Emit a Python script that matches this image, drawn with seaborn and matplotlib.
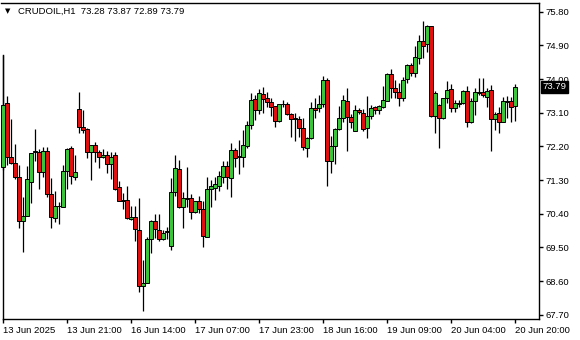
import matplotlib
matplotlib.use("Agg")
import matplotlib.pyplot as plt
import matplotlib.transforms as mtransforms
import seaborn as sns
import numpy as np

sns.set_style("white")
plt.rcParams["font.family"] = ["Liberation Sans", "DejaVu Sans"]

symbol = "CRUDOIL,H1"
opens = [71.66, 73.37, 71.91, 71.75, 71.38, 70.22, 70.35, 71.26, 72.04, 72.05,
         71.51, 72.08, 70.93, 70.29, 70.60, 70.59, 71.54, 72.15, 71.39, 73.20,
         72.71, 72.67, 72.04, 72.24, 72.05, 71.91, 71.97, 71.73, 71.97, 71.11,
         70.77, 70.77, 70.26, 70.31, 69.97, 68.46, 68.56, 69.72, 70.21, 69.97,
         69.72, 69.91, 69.54, 70.99, 71.60, 70.57, 70.79, 70.82, 70.44, 70.74,
         70.53, 69.79, 71.06, 71.10, 71.15, 71.38, 71.68, 71.35, 72.11, 71.94,
         71.93, 72.21, 72.77, 73.46, 73.16, 73.60, 73.49, 73.38, 73.28, 72.89,
         73.33, 73.34, 73.06, 72.95, 72.93, 72.69, 72.17, 72.42, 73.22, 73.22,
         73.33, 73.97, 71.82, 72.21, 72.66, 72.95, 73.41, 72.98, 72.61, 73.17,
         73.09, 72.69, 73.01, 73.24, 73.17, 73.25, 73.42, 74.13, 73.75, 73.65,
         73.49, 73.99, 74.38, 74.15, 74.56, 75.02, 74.93, 75.42, 73.01, 73.31,
         72.95, 73.49, 73.74, 73.22, 73.33, 73.35, 73.68, 72.84, 73.40, 73.62,
         73.65, 73.53, 73.71, 72.93, 73.09, 72.86, 73.38, 73.41, 73.28]
highs = [74.64, 73.55, 72.93, 72.26, 71.71, 70.85, 71.68, 72.02, 72.66, 72.13,
         72.19, 72.19, 71.35, 71.01, 70.71, 71.71, 72.17, 72.21, 71.97, 73.66,
         73.17, 72.69, 72.24, 72.31, 72.11, 72.13, 72.08, 72.06, 72.06, 71.28,
         70.95, 71.15, 70.61, 70.61, 70.82, 69.17, 69.79, 70.24, 70.39, 70.39,
         69.97, 70.04, 71.35, 71.97, 71.84, 70.99, 71.64, 70.93, 70.75, 70.88,
         70.73, 71.39, 71.31, 71.38, 71.53, 71.82, 71.82, 72.28, 72.15, 72.37,
         72.64, 72.89, 73.62, 73.58, 73.73, 73.78, 73.65, 73.49, 73.28, 73.34,
         73.44, 73.38, 73.10, 73.09, 73.00, 72.97, 72.46, 73.38, 73.49, 73.58,
         74.08, 74.04, 72.48, 72.69, 73.28, 73.58, 73.75, 73.07, 73.31, 73.22,
         73.19, 73.55, 73.31, 73.29, 73.31, 73.82, 74.15, 74.27, 73.98, 73.89,
         74.05, 74.40, 74.44, 74.88, 75.18, 75.55, 75.44, 75.42, 73.68, 73.33,
         73.49, 73.95, 73.86, 73.44, 73.44, 73.71, 73.82, 73.49, 73.75, 74.04,
         74.02, 73.75, 73.84, 73.11, 73.25, 73.51, 73.55, 73.53, 73.87]
lows = [71.57, 71.71, 71.73, 71.32, 70.02, 69.39, 70.33, 70.70, 71.82, 71.06,
        71.39, 70.85, 70.03, 70.18, 70.13, 70.58, 71.06, 71.20, 71.31, 72.57,
        72.57, 71.89, 71.29, 71.79, 71.63, 71.90, 71.48, 71.33, 71.04, 70.73,
        70.53, 70.26, 70.24, 69.68, 68.30, 67.81, 68.54, 69.36, 69.76, 69.68,
        69.70, 69.73, 69.44, 70.88, 70.55, 70.03, 70.57, 70.26, 70.43, 70.43,
        69.52, 69.78, 70.58, 70.77, 71.02, 71.22, 71.06, 70.86, 71.66, 71.46,
        71.66, 72.15, 72.66, 72.91, 73.06, 73.10, 73.25, 73.00, 72.73, 72.86,
        73.24, 73.04, 72.44, 72.35, 72.45, 72.11, 71.93, 72.39, 72.97, 73.13,
        73.24, 71.15, 71.50, 71.72, 72.64, 72.84, 72.09, 72.69, 72.60, 73.06,
        72.61, 72.42, 72.93, 73.07, 73.06, 73.22, 73.40, 73.50, 73.50, 73.29,
        73.40, 73.90, 74.08, 74.06, 74.40, 74.56, 74.72, 72.98, 72.57, 72.17,
        72.94, 73.35, 73.13, 73.13, 73.26, 73.34, 72.73, 72.83, 73.04, 73.57,
        73.53, 73.24, 72.08, 72.64, 72.55, 72.85, 72.95, 72.86, 72.89]
closes = [73.31, 71.93, 71.75, 71.38, 70.22, 70.34, 71.33, 72.02, 72.08, 71.51,
          72.08, 70.93, 70.32, 70.61, 70.62, 71.54, 72.13, 71.42, 71.51, 72.71,
          72.64, 72.04, 72.24, 72.06, 71.91, 71.97, 71.73, 71.93, 71.07, 70.75,
          70.75, 70.29, 70.32, 69.99, 68.48, 68.54, 69.73, 70.21, 69.99, 69.73,
          69.88, 69.94, 70.98, 71.62, 70.57, 70.82, 70.83, 70.44, 70.73, 70.52,
          69.82, 71.06, 71.13, 71.20, 71.41, 71.68, 71.38, 72.11, 71.90, 71.91,
          72.24, 72.77, 73.44, 73.16, 73.62, 73.46, 73.38, 73.26, 72.89, 73.33,
          73.34, 73.06, 72.93, 72.93, 72.69, 72.18, 72.42, 73.22, 73.18, 73.33,
          73.98, 71.82, 72.21, 72.66, 72.95, 73.44, 72.98, 72.85, 73.16, 73.13,
          72.66, 73.01, 73.22, 73.17, 73.29, 73.44, 74.13, 73.75, 73.64, 73.49,
          73.98, 74.38, 74.15, 74.58, 75.02, 74.89, 75.42, 73.01, 73.62, 72.95,
          73.49, 73.71, 73.22, 73.35, 73.35, 73.68, 72.84, 73.41, 73.65, 73.66,
          73.56, 73.68, 72.93, 73.07, 72.86, 73.41, 73.41, 73.26, 73.79]

time_labels = ["13 Jun 2025", "13 Jun 21:00", "16 Jun 14:00", "17 Jun 07:00",
               "17 Jun 23:00", "18 Jun 16:00", "19 Jun 09:00", "20 Jun 04:00",
               "20 Jun 20:00"]
time_label_step = 16
price_ticks = [75.80, 74.90, 74.00, 73.10, 72.20, 71.30, 70.40, 69.50, 68.60, 67.70]

bull_color = "#3cc43c"
bear_color = "#e01010"

o = np.array(opens); h = np.array(highs); l = np.array(lows); c = np.array(closes)
x = np.arange(len(o))

fig = plt.figure(figsize=(5.8, 3.4), dpi=100)
ax = fig.add_axes([1 / 580, 21 / 340, 538 / 580, 316 / 340])

ax.vlines(x, l, h, color="black", linewidth=0.9, zorder=2)
body_bottom = np.minimum(o, c)
body_height = np.abs(c - o)
colors = [bull_color if cc >= oo else bear_color for oo, cc in zip(o, c)]
ax.bar(x, body_height, bottom=body_bottom, width=0.8, color=colors,
       edgecolor="black", linewidth=0.7, zorder=3)

ax.set_xlim(-0.5, 134)
ax.set_ylim(67.59, 76.03)

ax.set_xticks(np.arange(0, len(o), time_label_step)[:len(time_labels)])
ax.set_xticklabels(time_labels)
for lbl in ax.get_xticklabels():
    lbl.set_horizontalalignment("left")
ax.yaxis.tick_right()
ax.set_yticks(price_ticks)
ax.set_yticklabels([f"{p:.2f}" for p in price_ticks])
ax.tick_params(axis="x", direction="out", length=3, width=1, pad=2,
               labelsize=6.8, colors="black", bottom=True)
ax.tick_params(axis="y", direction="out", length=3, width=1, pad=2,
               labelsize=6.8, colors="black", right=True, left=False)

for side in ["top", "right", "bottom", "left"]:
    ax.spines[side].set_visible(True)
    ax.spines[side].set_color("black")
    ax.spines[side].set_linewidth(1.0)
ax.spines["left"].set_position(("data", 0))
ax.spines["left"].set_bounds(67.59, highs[0])
ax.spines["bottom"].set_bounds(0, 134)
ax.grid(False)

# current price box
trans = mtransforms.blended_transform_factory(ax.transAxes, ax.transData)
ax.text(1.006, closes[-1], f"{closes[-1]:.2f}", transform=trans, ha="left",
        va="center", color="white", fontsize=6.8, zorder=10, clip_on=False,
        bbox=dict(boxstyle="square,pad=0.18", facecolor="black", edgecolor="black"))

# title
fig.text(8 / 580, 1 - 11 / 340, "▼", fontsize=5, ha="center", va="center", color="black",
         family=["DejaVu Sans"])
fig.text(18 / 580, 1 - 11 / 340,
         f"{symbol}  {opens[-1]:.2f} {highs[-1]:.2f} {lows[-1]:.2f} {closes[-1]:.2f}",
         fontsize=6.8, ha="left", va="center", color="black")

fig.savefig("out.png", dpi=100)
